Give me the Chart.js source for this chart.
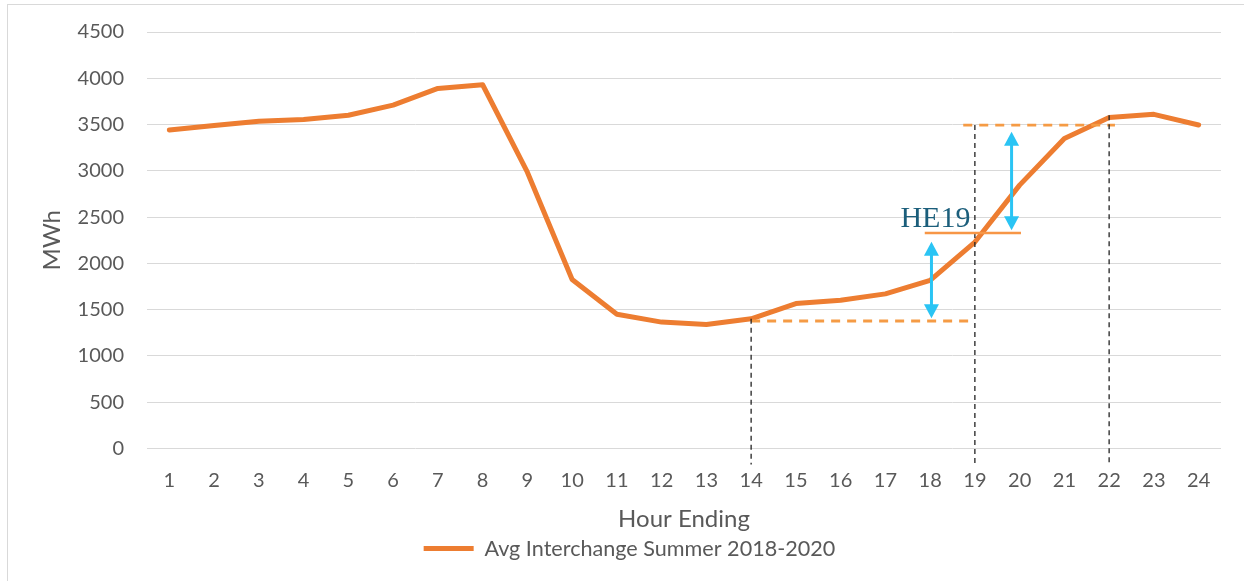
<!DOCTYPE html>
<html>
<head>
<meta charset="utf-8">
<script src="https://cdn.jsdelivr.net/npm/chart.js@4.4.0/dist/chart.umd.min.js"></script>
<style>
	html, body { margin: 0; padding: 0; background: #fff; }
	#wrap { position: relative; width: 1244px; height: 581px; }
</style>
</head>
<body>
<div id="wrap"><canvas id="chart" width="1244" height="581"></canvas></div>
<script>
// Chart data
const hours = [ '1', '2', '3', '4', '5', '6', '7', '8', '9', '10', '11', '12',
	'13', '14', '15', '16', '17', '18', '19', '20', '21', '22', '23', '24' ];
const interchange = [ 3440, 3490, 3535, 3555, 3600, 3710, 3890, 3930, 2985, 1825, 1450, 1365,
	1340, 1400, 1565, 1600, 1670, 1815, 2230, 2845, 3350, 3575, 3610, 3495 ];
const seriesLabel = 'Avg Interchange Summer 2018-2020';

// Annotations (hour positions, MWh values)
const guideHours = [ 14, 19, 22 ];
const guideTops = [ 1400, 3494, 3600 ];
const levelFrom = [ 14, 18.74 ];
const levelTo = [ 19, 22.13 ];
const levelValues = [ 1377, 3494 ];
const heFrom = 17.88;
const heTo = 20.03;
const heValue = 2329;
const arrowHours = [ 18.03, 19.82 ];
const arrowLows = [ 1406, 2358 ];
const arrowHighs = [ 2232, 3422 ];
const heLabel = 'HE19';
const heLabelHour = 18.9;
const heLabelValue = 2394;

const grey = '#595959';
const font = 'Lato';

function drawArrowHead( ctx, x, y, dir ) {
	ctx.beginPath();
	ctx.moveTo( x, y );
	ctx.lineTo( x - 7.5, y + dir * 14 );
	ctx.lineTo( x + 7.5, y + dir * 14 );
	ctx.closePath();
	ctx.fill();
}

// Draws the guide lines, arrows and label on top of the series
const annotations = {
	id: 'annotations',
	beforeDraw: function ( chart ) {
		const ctx = chart.ctx;
		ctx.save();
		ctx.strokeStyle = '#d9d9d9';
		ctx.lineWidth = 1;
		ctx.strokeRect( 7.5, 4.5, 1250, 600 );
		ctx.restore();
	},
	afterDatasetsDraw: function ( chart ) {
		const ctx = chart.ctx;
		const x = chart.scales.x;
		const y = chart.scales.y;
		const xAt = ( h ) => x.getPixelForValue( h - 1 );
		const bottom = chart.chartArea.bottom;
		ctx.save();

		// orange dashed levels
		ctx.strokeStyle = '#F59B45';
		ctx.lineWidth = 2.8;
		ctx.setLineDash( [ 9, 7 ] );
		for ( let i = 0; i < levelValues.length; i++ ) {
			ctx.beginPath();
			ctx.moveTo( xAt( levelFrom[ i ] ), y.getPixelForValue( levelValues[ i ] ) );
			ctx.lineTo( xAt( levelTo[ i ] ), y.getPixelForValue( levelValues[ i ] ) );
			ctx.stroke();
		}

		// black dashed verticals
		ctx.strokeStyle = '#222';
		ctx.lineWidth = 1.3;
		ctx.setLineDash( [ 5, 4 ] );
		for ( let i = 0; i < guideHours.length; i++ ) {
			ctx.beginPath();
			ctx.moveTo( xAt( guideHours[ i ] ), y.getPixelForValue( guideTops[ i ] ) );
			ctx.lineTo( xAt( guideHours[ i ] ), bottom + 16 );
			ctx.stroke();
		}

		// HE19 solid level
		ctx.setLineDash( [] );
		ctx.strokeStyle = '#F79646';
		ctx.lineWidth = 2.5;
		ctx.beginPath();
		ctx.moveTo( xAt( heFrom ), y.getPixelForValue( heValue ) );
		ctx.lineTo( xAt( heTo ), y.getPixelForValue( heValue ) );
		ctx.stroke();

		// cyan double arrows
		ctx.strokeStyle = '#2AC4F4';
		ctx.fillStyle = '#2AC4F4';
		ctx.lineWidth = 3;
		for ( let i = 0; i < arrowHours.length; i++ ) {
			const ax = xAt( arrowHours[ i ] );
			const top = y.getPixelForValue( arrowHighs[ i ] );
			const low = y.getPixelForValue( arrowLows[ i ] );
			ctx.beginPath();
			ctx.moveTo( ax, top + 10 );
			ctx.lineTo( ax, low - 10 );
			ctx.stroke();
			drawArrowHead( ctx, ax, top, 1 );
			drawArrowHead( ctx, ax, low, -1 );
		}

		// label
		ctx.fillStyle = '#1B5E7B';
		ctx.font = '30px "Liberation Serif"';
		ctx.textAlign = 'right';
		ctx.textBaseline = 'alphabetic';
		ctx.fillText( heLabel, xAt( heLabelHour ), y.getPixelForValue( heLabelValue ) );
		ctx.restore();
	}
};

new Chart( document.getElementById( 'chart' ), {
	type: 'line',
	data: {
		labels: hours,
		datasets: [ {
			label: seriesLabel,
			data: interchange,
			borderColor: '#ED7D31',
			backgroundColor: '#ED7D31',
			borderWidth: 5,
			borderCapStyle: 'round',
			borderJoinStyle: 'round',
			pointRadius: 0,
			tension: 0
		} ]
	},
	options: {
		responsive: false,
		animation: false,
		layout: {
			padding: { left: 38, right: 23, top: 32, bottom: 11.6 }
		},
		plugins: {
			legend: {
				position: 'bottom',
				labels: {
					usePointStyle: true,
					pointStyle: 'line',
					pointStyleWidth: 50,
					padding: 4,
					color: grey,
					font: { family: font, size: 21.6 }
				}
			},
			tooltip: { enabled: false }
		},
		scales: {
			x: {
				offset: true,
				afterFit: function ( scale ) {
					scale.height = 85.4;
				},
				grid: { display: false, drawTicks: false },
				border: { display: false },
				ticks: {
					color: grey,
					padding: 20,
					maxRotation: 0,
					font: { family: font, size: 20 }
				},
				title: {
					display: true,
					text: 'Hour Ending',
					color: grey,
					padding: { top: 12.6, bottom: 0 },
					font: { family: font, size: 24 }
				}
			},
			y: {
				min: 0,
				max: 4500,
				afterFit: function ( scale ) {
					scale.width = 109;
					scale.paddingTop = 12;
					scale.paddingBottom = 12;
				},
				grid: { color: '#d9d9d9', lineWidth: 1, drawTicks: false },
				border: { display: false },
				ticks: {
					stepSize: 500,
					color: grey,
					padding: 23,
					font: { family: font, size: 20 },
					callback: ( value ) => String( value )
				},
				title: {
					display: true,
					text: 'MWh',
					color: grey,
					padding: 0,
					font: { family: font, size: 24 }
				}
			}
		}
	},
	plugins: [ annotations ]
} );
</script>
</body>
</html>
